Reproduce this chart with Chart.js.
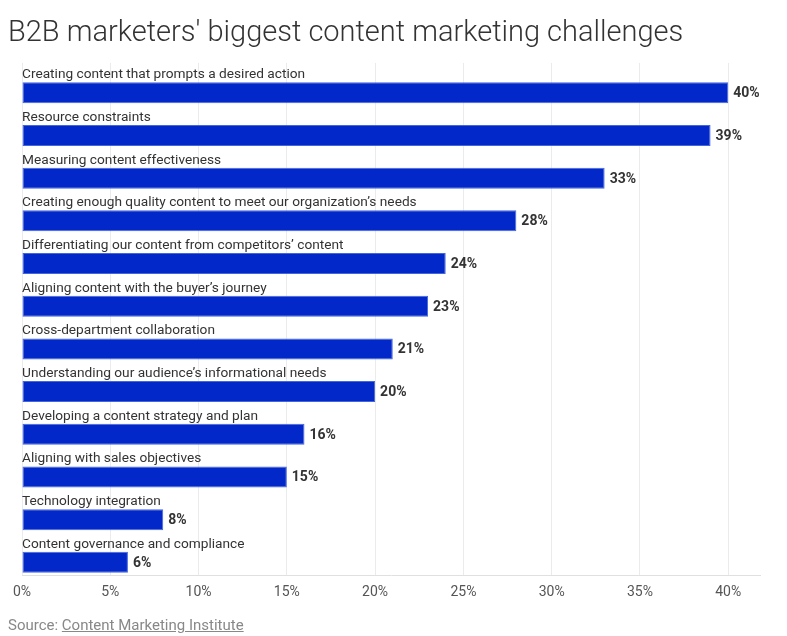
<!DOCTYPE html>
<html>
<head>
    <meta charset="utf-8">
    <title>B2B content marketing challenges</title>
    <script src="https://cdn.jsdelivr.net/npm/chart.js@4.4.1/dist/chart.umd.min.js"></script>
    <style>
        body { margin: 0; background: #fff; font-family: Roboto, sans-serif; }
        #wrap { position: relative; width: 787px; height: 636px; }
        #title { position: absolute; left: 8px; top: 12px; font-size: 29px; line-height: 38px; font-weight: 300; color: #333; white-space: nowrap; }
        #chartBox { position: absolute; left: 0; top: 0; width: 787px; height: 636px; }
        #source { position: absolute; left: 8px; top: 615px; font-size: 15px; line-height: 20px; color: #888; }
        #source a { color: #888; text-decoration: underline; }
    </style>
</head>
<body>
<div id="wrap">
    <div id="chartBox"><canvas id="myChart"></canvas></div>
    <div id="title">B2B marketers' biggest content marketing challenges</div>
    <div id="source">Source: <a href="#">Content Marketing Institute</a></div>
</div>

<script>
    // data
    let categories = [
        "Creating content that prompts a desired action",
        "Resource constraints",
        "Measuring content effectiveness",
        "Creating enough quality content to meet our organization\u2019s needs",
        "Differentiating our content from competitors\u2019 content",
        "Aligning content with the buyer\u2019s journey",
        "Cross-department collaboration",
        "Understanding our audience\u2019s informational needs",
        "Developing a content strategy and plan",
        "Aligning with sales objectives",
        "Technology integration",
        "Content governance and compliance"
    ];
    let shares = [40, 39, 33, 28, 24, 23, 21, 20, 16, 15, 8, 6];
    let xTicks = [0, 5, 10, 15, 20, 25, 30, 35, 40];

    // draws the category name above each bar and the value at its end
    let barLabels = {
        id: 'barLabels',
        afterDatasetsDraw(chart) {
            let ctx = chart.ctx;
            let meta = chart.getDatasetMeta(1);
            ctx.save();
            meta.data.forEach(function (bar, i) {
                let top = bar.y - bar.height / 2;
                ctx.fillStyle = '#333';
                ctx.font = '13.7px Roboto';
                ctx.textAlign = 'left';
                ctx.textBaseline = 'middle';
                ctx.fillText(categories[i], chart.chartArea.left, top - 7.5);
                ctx.font = 'bold 14px Roboto';
                ctx.fillText(shares[i] + '%', bar.x + 5, bar.y + 1);
            });
            ctx.restore();
        }
    };

    new Chart(document.getElementById('myChart'), {
        type: 'bar',
        data: {
            labels: categories,
            datasets: [{
                // empty slot so the real bar sits in the lower half of each row
                data: categories.map(() => 0),
                backgroundColor: 'rgba(0,0,0,0)',
                borderWidth: 0
            }, {
                data: shares,
                backgroundColor: '#0328c9',
                borderColor: '#4466dd',
                borderWidth: 1,
                borderSkipped: false
            }]
        },
        options: {
            indexAxis: 'y',
            responsive: true,
            maintainAspectRatio: false,
            animation: false,
            categoryPercentage: 0.794,
            barPercentage: 1.24,
            layout: { padding: { left: 22, right: 27, top: 63, bottom: 26 } },
            plugins: {
                legend: { display: false },
                tooltip: { enabled: false }
            },
            scales: {
                y: { display: false },
                x: {
                    min: 0,
                    max: 41.8,
                    afterBuildTicks: function (scale) {
                        scale.ticks = xTicks.map(v => ({ value: v }));
                    },
                    grid: { color: '#ebebeb', drawTicks: false },
                    border: { color: '#e0e0e0' },
                    ticks: {
                        padding: 9,
                        color: '#555',
                        font: { family: 'Roboto', size: 14 },
                        maxRotation: 0,
                        callback: function (v) { return v + '%'; }
                    }
                }
            }
        },
        plugins: [barLabels]
    });
</script>
</body>
</html>
